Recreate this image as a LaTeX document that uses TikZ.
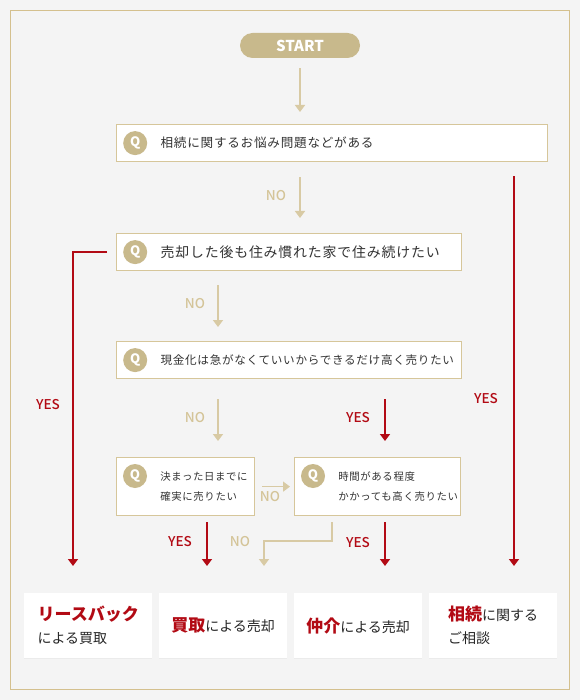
\documentclass[tikz,border=0pt]{standalone}
\usepackage{fontspec}
\setmainfont{Noto Sans CJK JP}
\newfontfamily\qfont[LetterSpace=6]{Noto Sans CJK JP}
\newfontfamily\medfont{Noto Sans CJK JP Medium}
\usepackage{tikz}
\usetikzlibrary{arrows.meta,positioning,shadows}
\definecolor{bggray}{RGB}{244,244,244}
\definecolor{framegold}{RGB}{212,192,142}
\definecolor{gold}{RGB}{200,185,140}
\definecolor{lightgold}{RGB}{216,202,164}
\definecolor{boxline}{RGB}{214,198,154}
\definecolor{nogold}{RGB}{212,196,152}
\definecolor{yesred}{RGB}{178,10,20}
\definecolor{ink}{RGB}{51,51,51}
\newcommand{\redword}[1]{{\color{yesred}\bfseries\fontsize{17}{23}\selectfont #1}}

\begin{document}
\begin{tikzpicture}[x=1pt, y=-1pt, >={Triangle[width=10pt,length=7pt]},
    startbox/.style={fill=gold, rounded corners=12.5pt, minimum width=120pt, minimum height=25pt,
        text=white, font=\bfseries\fontsize{15}{15}\selectfont},
    qbox/.style={draw=boxline, line width=1.2pt, fill=white, anchor=north west, inner sep=0pt},
    qmark/.style={circle, fill=gold, text=white, minimum size=24pt, inner sep=0pt,
        font=\bfseries\fontsize{13}{13}\selectfont},
    qtext/.style={text=ink, inner sep=0pt, anchor=west},
    result/.style={fill=white, minimum width=128pt, minimum height=65pt, anchor=north west,
        align=left, text=black!85, font=\fontsize{14}{23}\selectfont,
        drop shadow={opacity=0.07, shadow xshift=0pt, shadow yshift=-1pt}},
    noline/.style={draw=lightgold, line width=1.5pt},
    yesline/.style={draw=yesred, line width=1.5pt},
    nolabel/.style={text=nogold, font=\medfont\fontsize{13.5}{13.5}\selectfont},
    yeslabel/.style={text=yesred, font=\medfont\fontsize{13.5}{13.5}\selectfont}]

    % Background and frame
    \fill[bggray] (0,0) rectangle (580,700);
    \draw[framegold, line width=1.5pt] (10.5,10.5) rectangle (569.5,689.5);

    % Start
    \node[startbox] (start) at (300,45.5) {START};

    % Questions
    \node[qbox, minimum width=431pt, minimum height=37pt] (q1) at (116,124) {};
    \node[qmark, right=7pt of q1.west] (q1m) {Q};
    \node[qtext, right=13pt of q1m, font=\qfont\fontsize{12.6}{13}\selectfont] (q1t) {相続に関するお悩み問題などがある};

    \node[qbox, minimum width=345pt, minimum height=37pt] (q2) at (116,233) {};
    \node[qmark, right=7pt of q2.west] (q2m) {Q};
    \node[qtext, right=13pt of q2m, font=\qfont\fontsize{13.9}{14}\selectfont] (q2t) {売却した後も住み慣れた家で住み続けたい};

    \node[qbox, minimum width=345pt, minimum height=37pt] (q3) at (116,341) {};
    \node[qmark, right=7pt of q3.west] (q3m) {Q};
    \node[qtext, right=13pt of q3m, font=\qfont\fontsize{11.6}{12}\selectfont] (q3t) {現金化は急がなくていいからできるだけ高く売りたい};

    \node[qbox, minimum width=138pt, minimum height=58pt] (q4) at (116,457) {};
    \node[qmark] (q4m) at ([xshift=19pt,yshift=-19pt]q4.north west) {Q};
    \node[qtext, align=left, font=\qfont\fontsize{10.4}{20}\selectfont] (q4t) at ([xshift=13pt]q4m.east |- q4.center) {決まった日までに\\確実に売りたい};

    \node[qbox, minimum width=166pt, minimum height=58pt] (q5) at (294,457) {};
    \node[qmark] (q5m) at ([xshift=19pt,yshift=-19pt]q5.north west) {Q};
    \node[qtext, align=left, font=\qfont\fontsize{10.4}{20}\selectfont] (q5t) at ([xshift=13pt]q5m.east |- q5.center) {時間がある程度\\かかっても高く売りたい};

    % Results
    \node[result] (b1) at (24,593) {\redword{リースバック}\\による買取};
    \node[result] (b2) at (159,593) {\redword{買取}による売却};
    \node[result] (b3) at (294,593) {\redword{仲介}による売却};
    \node[result] (b4) at (429,593) {\redword{相続}に関する\\ご相談};

    % Arrow columns
    \coordinate (cleft) at (73,0);
    \coordinate (cno) at (218,0);
    \coordinate (cq4) at (207,0);
    \coordinate (cq5) at (332,0);
    \coordinate (cturn) at (264,0);
    \coordinate (cyes) at (385,0);
    \coordinate (cright) at (514,0);

    % Connectors
    \draw[noline, ->, shorten <=10pt, shorten >=12pt] (start.south) -- (start.south |- q1.north);
    \draw[noline, ->, shorten <=15pt, shorten >=15pt] (start |- q1.south) -- (start |- q2.north);
    \draw[yesline, ->, shorten <=14pt, shorten >=27pt] (cright |- q1.south) -- (cright |- b4.north);
    \draw[yesline, ->, shorten <=9pt, shorten >=27pt] (q2.west) -| (cleft |- b1.north);
    \draw[noline, ->, shorten <=14pt, shorten >=14pt] (cno |- q2.south) -- (cno |- q3.north);
    \draw[noline, ->, shorten <=20pt, shorten >=16pt] (cno |- q3.south) -- (cno |- q4.north);
    \draw[yesline, ->, shorten <=20pt, shorten >=16pt] (cyes |- q3.south) -- (cyes |- q5.north);
    \draw[noline, ->, shorten <=7pt, shorten >=4pt] (q4.east) -- (q5.west);
    \draw[yesline, ->, shorten <=6pt, shorten >=27pt] (cq4 |- q4.south) -- (cq4 |- b2.north);
    \draw[noline, ->, shorten <=6pt, shorten >=27pt] (cq5 |- q5.south) -- ++(0,25) -| (cturn |- b2.north);
    \draw[yesline, ->, shorten <=6pt, shorten >=27pt] (cyes |- q5.south) -- (cyes |- b3.north);

    % Labels
    \node[nolabel] (no1) at (276,196) {NO};
    \node[nolabel] (no2) at (195,304) {NO};
    \node[nolabel] (no3) at (195,418) {NO};
    \node[nolabel] (no4) at (270,497) {NO};
    \node[nolabel] (no5) at (240,542) {NO};
    \node[yeslabel] (yes1) at (486,399) {YES};
    \node[yeslabel] (yes2) at (48,405) {YES};
    \node[yeslabel] (yes3) at (358,418) {YES};
    \node[yeslabel] (yes4) at (180,542) {YES};
    \node[yeslabel] (yes5) at (358,543) {YES};
\end{tikzpicture}
\end{document}
